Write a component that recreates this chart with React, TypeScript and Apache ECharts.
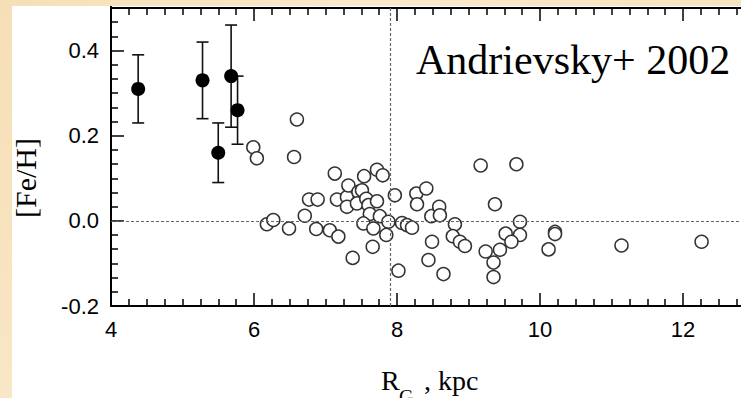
import React, { useEffect, useRef } from "react";
import * as echarts from "echarts";

// Metal-rich Cepheids with error bars (filled)
const richR = [4.38, 5.28, 5.5, 5.68, 5.77];
const richFeH = [0.31, 0.33, 0.16, 0.34, 0.26];
const richErr = [0.08, 0.09, 0.07, 0.12, 0.08];

// Other Cepheids (open circles)
const cephR = [
  5.99, 6.04, 6.6, 6.56, 6.18, 6.27, 6.49, 6.71, 6.77, 6.89, 6.87, 7.06, 7.18, 7.38, 7.13, 7.16,
  7.3, 7.3, 7.32, 7.46, 7.54, 7.44, 7.51, 7.57, 7.6, 7.72, 7.62, 7.76, 7.53, 7.67, 7.88, 7.85,
  7.66, 7.72, 7.8, 7.97, 8.07, 8.14, 8.21, 8.02, 8.27, 8.41, 8.28, 8.48, 8.59, 8.6, 8.49, 8.44,
  8.65, 8.81, 8.78, 8.88, 8.95, 9.17, 9.67, 9.37, 9.72, 9.52, 9.72, 9.6, 9.44, 9.24, 9.35, 9.35,
  10.21, 10.21, 10.12, 11.14, 12.26,
];
const cephFeH = [
  0.173, 0.147, 0.238, 0.15, -0.008, 0.002, -0.018, 0.012, 0.05, 0.05, -0.019, -0.022, -0.037,
  -0.087, 0.111, 0.05, 0.056, 0.033, 0.083, 0.068, 0.105, 0.041, 0.072, 0.052, 0.037, 0.046,
  0.016, 0.011, -0.006, -0.018, -0.002, -0.033, -0.061, 0.12, 0.107, 0.06, -0.005, -0.01, -0.016,
  -0.117, 0.064, 0.076, 0.039, 0.011, 0.033, 0.013, -0.049, -0.092, -0.125, -0.008, -0.036,
  -0.049, -0.059, 0.13, 0.133, 0.039, -0.002, -0.03, -0.033, -0.049, -0.068, -0.072, -0.098,
  -0.132, -0.026, -0.031, -0.067, -0.058, -0.049,
];

const solarR = 7.9;
const refFeH = 0;

// axis ranges (the visible frame ends at [Fe/H] = 0.5; the scale runs on so ticks stay regular)
const xMin = 4;
const xMax = 14;
const yMin = -0.2;
const yFrameTop = 0.5;
const yMax = 0.6;

const SANS = "'Liberation Sans', Arial, Helvetica, sans-serif";
const SERIF = "'Liberation Serif', 'Times New Roman', Times, serif";

const SHIFT = 50; // chart canvas starts 50px above the page
const PX_PER_Y = 298 / 0.7;

export default function App() {
  const ref = useRef<HTMLDivElement>(null);

  useEffect(() => {
    document.body.style.margin = "0";
    if (!ref.current) return;
    const chart = echarts.init(ref.current, undefined, { renderer: "svg" });

    const tickStyle = { color: "#000", width: 1.5 };
    const gridTop = 8 + SHIFT - (yMax - yFrameTop) * PX_PER_Y;
    const topAxisOffset = -((yMax - yFrameTop) * PX_PER_Y);

    chart.setOption({
      animation: false,
      backgroundColor: "transparent",
      grid: { left: 111, right: 4, top: gridTop, bottom: 92, containLabel: false },
      xAxis: [
        {
          type: "value",
          position: "bottom",
          min: xMin,
          max: xMax,
          interval: 2,
          axisLine: { show: true, onZero: false, lineStyle: { color: "#000", width: 2 } },
          axisTick: { show: true, inside: true, length: 13, lineStyle: tickStyle },
          minorTick: { show: true, splitNumber: 8, length: 7, lineStyle: tickStyle },
          axisLabel: {
            show: true,
            color: "#000",
            fontSize: 22,
            fontFamily: SANS,
            margin: 12,
            showMaxLabel: false,
          },
          splitLine: { show: false },
          minorSplitLine: { show: false },
        },
        {
          type: "value",
          position: "top",
          offset: topAxisOffset,
          min: xMin,
          max: xMax,
          interval: 2,
          axisLine: { show: true, onZero: false, lineStyle: { color: "#000", width: 2 } },
          axisTick: { show: true, inside: true, length: 13, lineStyle: tickStyle },
          minorTick: { show: true, splitNumber: 8, length: 7, lineStyle: tickStyle },
          axisLabel: { show: true, color: "rgba(0,0,0,0)", fontSize: 1, formatter: () => "" },
          splitLine: { show: false },
          minorSplitLine: { show: false },
        },
      ],
      yAxis: {
        type: "value",
        position: "left",
        min: yMin,
        max: yMax,
        interval: 0.2,
        axisLine: { show: true, onZero: false, lineStyle: { color: "#000", width: 2 } },
        axisTick: { show: true, inside: true, length: 13, lineStyle: tickStyle },
        minorTick: { show: true, splitNumber: 6, length: 7, lineStyle: tickStyle },
        axisLabel: {
          show: true,
          color: "#000",
          fontSize: 22,
          fontFamily: SANS,
          margin: 12,
          showMaxLabel: false,
          formatter: (v: number) => v.toFixed(1),
        },
        splitLine: { show: false },
        minorSplitLine: { show: false },
      },
      series: [
        {
          type: "scatter",
          name: "open",
          symbol: "circle",
          symbolSize: 13,
          itemStyle: { color: "#fff", borderColor: "#333", borderWidth: 1.5, opacity: 1 },
          data: cephR.map((r, i) => [r, cephFeH[i]]),
          z: 3,
        },
        {
          type: "custom",
          name: "errors",
          data: richR.map((r, i) => [r, richFeH[i], richErr[i]]),
          encode: { x: 0, y: 1 },
          renderItem: (params: any, api: any) => {
            const x = api.value(0);
            const y = api.value(1);
            const e = api.value(2);
            const top = api.coord([x, y + e]);
            const bot = api.coord([x, y - e]);
            const h = 6;
            const st = { stroke: "#111", lineWidth: 1.6 };
            return {
              type: "group",
              children: [
                { type: "line", shape: { x1: top[0], y1: top[1], x2: bot[0], y2: bot[1] }, style: st },
                { type: "line", shape: { x1: top[0] - h, y1: top[1], x2: top[0] + h, y2: top[1] }, style: st },
                { type: "line", shape: { x1: bot[0] - h, y1: bot[1], x2: bot[0] + h, y2: bot[1] }, style: st },
              ],
            };
          },
          z: 4,
        },
        {
          type: "scatter",
          name: "filled",
          symbol: "circle",
          symbolSize: 14,
          itemStyle: { color: "#000", opacity: 1 },
          data: richR.map((r, i) => [r, richFeH[i]]),
          z: 5,
        },
        {
          type: "scatter",
          name: "refs",
          data: [],
          z: 6,
          markLine: {
            silent: true,
            symbol: ["none", "none"],
            label: { show: false },
            lineStyle: { color: "#666", width: 1.2, type: [3, 2] },
            data: [
              [{ coord: [xMin, refFeH] }, { coord: [xMax, refFeH] }],
              [{ coord: [solarR, yMin] }, { coord: [solarR, yFrameTop] }],
            ],
          },
        },
      ],
      graphic: [
        {
          type: "text",
          x: 416,
          y: 60 + SHIFT,
          z: 100,
          style: {
            text: "Andrievsky+ 2002",
            fontFamily: SERIF,
            fontSize: 42,
            fill: "#000",
            align: "left",
            verticalAlign: "middle",
          },
        },
        {
          type: "text",
          x: 25,
          y: 178 + SHIFT,
          rotation: Math.PI / 2,
          z: 100,
          style: {
            text: "[Fe/H]",
            fontFamily: SERIF,
            fontSize: 30,
            fill: "#000",
            align: "center",
            verticalAlign: "middle",
          },
        },
        {
          type: "text",
          x: 381,
          y: 380 + SHIFT,
          z: 100,
          style: { text: "R", fontFamily: SERIF, fontSize: 28, fill: "#000", align: "left", verticalAlign: "middle" },
        },
        {
          type: "text",
          x: 399,
          y: 397 + SHIFT,
          z: 100,
          style: { text: "G", fontFamily: SERIF, fontSize: 20, fill: "#000", align: "left", verticalAlign: "middle" },
        },
        {
          type: "text",
          x: 417,
          y: 380 + SHIFT,
          z: 100,
          style: { text: " , kpc", fontFamily: SERIF, fontSize: 28, fill: "#000", align: "left", verticalAlign: "middle" },
        },
      ],
    });

    return () => chart.dispose();
  }, []);

  const peach = "linear-gradient(135deg, #f6dfb6 0%, #fae9cc 50%, #f8e3c0 100%)";

  return (
    <div
      style={{
        position: "relative",
        width: 741,
        height: 398,
        overflow: "hidden",
        background: peach,
      }}
    >
      <div style={{ position: "absolute", left: 12, top: 6, right: 0, bottom: 0, background: "#fff" }} />
      <div ref={ref} style={{ position: "absolute", left: 0, top: -SHIFT, width: 830, height: 398 + SHIFT }} />
      <div style={{ position: "absolute", left: 0, top: 0, width: 741, height: 6, background: peach }} />
    </div>
  );
}
